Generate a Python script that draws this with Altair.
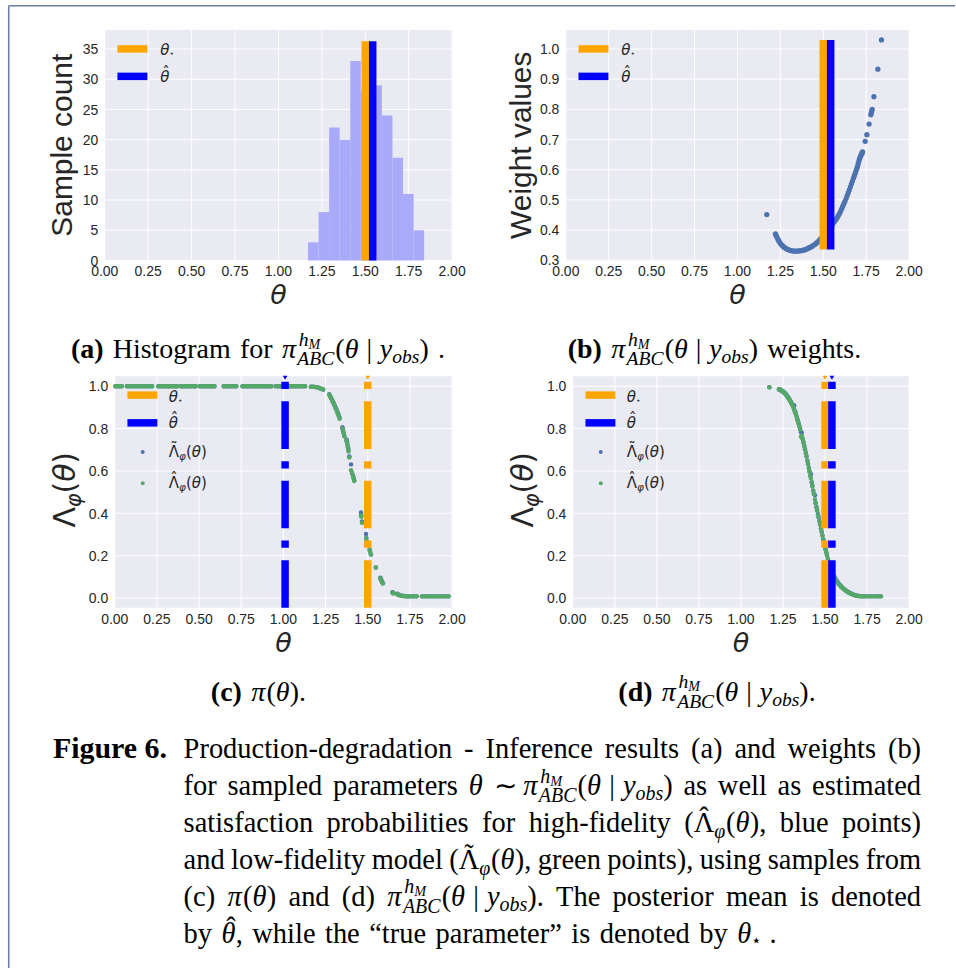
import altair as alt
import pandas as pd

# ------------------------------------------------------------------ values
THETA_STAR = 1.5      # true parameter
THETA_HAT_A = 1.543   # posterior mean, panels (a) and (b)
THETA_HAT_C = 1.01    # mean of the prior samples, panel (c)
THETA_HAT_D = 1.541   # posterior mean, panel (d)

# (a) histogram of posterior samples
hist_edges = [1.1705, 1.2313, 1.2921, 1.3529, 1.4137, 1.4745,
              1.5353, 1.5961, 1.6569, 1.7177, 1.7785, 1.8393]
hist_counts = [3, 8, 22, 20, 33, 28, 29, 24, 17, 11, 5]
hist_line_top = 36.3

# (b) importance weights of the posterior samples
weight_theta = [1.171, 1.221, 1.226, 1.231, 1.237, 1.243, 1.250, 1.257, 1.264, 1.271,
                1.279, 1.287, 1.295, 1.303, 1.311, 1.319, 1.327, 1.335, 1.343, 1.351,
                1.359, 1.367, 1.375, 1.383, 1.391, 1.399, 1.407, 1.414, 1.421, 1.429,
                1.437, 1.445, 1.453, 1.461, 1.469, 1.477, 1.486, 1.495, 1.505, 1.515,
                1.525, 1.535, 1.545, 1.555, 1.564, 1.571, 1.578, 1.585, 1.592, 1.599,
                1.606, 1.613, 1.620, 1.627, 1.634, 1.640, 1.646, 1.652, 1.658, 1.664,
                1.670, 1.676, 1.681, 1.686, 1.691, 1.696, 1.700, 1.704, 1.708, 1.712,
                1.716, 1.720, 1.724, 1.727, 1.729, 1.744, 1.754, 1.767, 1.777, 1.780,
                1.782, 1.785, 1.795, 1.818, 1.839]
weight_value = [0.451, 0.387, 0.381, 0.375, 0.368, 0.362, 0.356, 0.351, 0.347, 0.343,
                0.340, 0.337, 0.335, 0.333, 0.332, 0.331, 0.330, 0.330, 0.330, 0.330,
                0.331, 0.331, 0.332, 0.333, 0.334, 0.336, 0.338, 0.340, 0.342, 0.344,
                0.347, 0.350, 0.353, 0.357, 0.361, 0.366, 0.372, 0.378, 0.385, 0.392,
                0.399, 0.406, 0.413, 0.420, 0.427, 0.432, 0.438, 0.445, 0.452, 0.460,
                0.469, 0.478, 0.487, 0.496, 0.506, 0.515, 0.524, 0.533, 0.543, 0.553,
                0.562, 0.572, 0.580, 0.588, 0.597, 0.605, 0.612, 0.621, 0.630, 0.637,
                0.643, 0.648, 0.653, 0.656, 0.659, 0.694, 0.716, 0.751, 0.782, 0.789,
                0.794, 0.800, 0.842, 0.933, 1.030]
weight_line_span = [0.335, 1.03]

# (c) satisfaction probabilities on prior samples
prior_flat_theta = [0.004, 0.017, 0.029, 0.041, 0.072, 0.085, 0.097, 0.109, 0.121, 0.134,
                    0.146, 0.159, 0.171, 0.183, 0.196, 0.208, 0.221, 0.258, 0.270, 0.283,
                    0.295, 0.307, 0.320, 0.332, 0.345, 0.357, 0.369, 0.392, 0.404, 0.417,
                    0.429, 0.442, 0.454, 0.467, 0.479, 0.505, 0.517, 0.530, 0.542, 0.554,
                    0.567, 0.579, 0.591, 0.646, 0.658, 0.671, 0.683, 0.695, 0.708, 0.720,
                    0.758, 0.770, 0.783, 0.795, 0.807, 0.820, 0.832, 0.845, 0.857, 0.869,
                    0.882, 0.894, 0.907, 0.919, 0.929, 0.955, 0.967, 0.980, 0.992, 1.004,
                    1.017, 1.029, 1.042, 1.054, 1.066, 1.079, 1.091, 1.104, 1.116, 1.128]
prior_flat_value = 1.0
prior_drop_theta = [1.163, 1.175, 1.188, 1.200, 1.212, 1.224, 1.236, 1.272, 1.277, 1.282,
                    1.288, 1.293, 1.298, 1.304, 1.310, 1.316, 1.322, 1.327, 1.333, 1.350,
                    1.353, 1.357, 1.361, 1.374, 1.377, 1.380, 1.383, 1.386, 1.391, 1.401,
                    1.407, 1.413, 1.417, 1.420, 1.460, 1.462, 1.466, 1.490, 1.492, 1.511,
                    1.514, 1.519, 1.548, 1.575, 1.578, 1.582, 1.586, 1.590, 1.647, 1.652,
                    1.675, 1.680, 1.692, 1.705, 1.717, 1.730, 1.741]
prior_drop_tilde = [0.998, 0.997, 0.996, 0.995, 0.992, 0.988, 0.984, 0.962, 0.954, 0.946,
                    0.937, 0.928, 0.921, 0.910, 0.898, 0.888, 0.876, 0.866, 0.852, 0.806,
                    0.796, 0.782, 0.766, 0.748, 0.740, 0.725, 0.712, 0.700, 0.668, 0.631,
                    0.590, 0.578, 0.566, 0.556, 0.404, 0.392, 0.362, 0.302, 0.284, 0.229,
                    0.220, 0.207, 0.144, 0.096, 0.090, 0.082, 0.075, 0.070, 0.027, 0.024,
                    0.021, 0.018, 0.013, 0.011, 0.010, 0.009, 0.008]
prior_drop_hat = [0.998, 0.997, 0.996, 0.995, 0.992, 0.988, 0.984, 0.960, 0.952, 0.944,
                  0.935, 0.926, 0.918, 0.907, 0.896, 0.884, 0.870, 0.860, 0.846, 0.800,
                  0.790, 0.778, 0.764, 0.744, 0.736, 0.720, 0.708, 0.692, 0.664, 0.603,
                  0.588, 0.574, 0.562, 0.552, 0.390, 0.384, 0.356, 0.283, 0.272, 0.227,
                  0.218, 0.205, 0.144, 0.094, 0.088, 0.080, 0.074, 0.069, 0.026, 0.022,
                  0.019, 0.015, 0.012, 0.010, 0.009, 0.009, 0.008]
prior_tail_theta = [1.752, 1.765, 1.778, 1.790, 1.822, 1.835, 1.848, 1.861, 1.874, 1.887,
                    1.900, 1.913, 1.926, 1.940, 1.953, 1.966, 1.979]
prior_tail_value = 0.008

# (d) satisfaction probabilities on posterior samples
post_theta = [1.169, 1.226, 1.229, 1.233, 1.237, 1.241, 1.246, 1.250, 1.255, 1.259,
              1.264, 1.268, 1.273, 1.277, 1.282, 1.287, 1.292, 1.297, 1.302, 1.307,
              1.312, 1.317, 1.322, 1.327, 1.332, 1.337, 1.342, 1.347, 1.352, 1.357,
              1.362, 1.367, 1.372, 1.377, 1.381, 1.386, 1.390, 1.395, 1.399, 1.404,
              1.408, 1.413, 1.416, 1.421, 1.425, 1.430, 1.434, 1.440, 1.444, 1.449,
              1.453, 1.458, 1.462, 1.467, 1.471, 1.476, 1.480, 1.485, 1.490, 1.494,
              1.499, 1.503, 1.508, 1.512, 1.517, 1.521, 1.526, 1.531, 1.536, 1.541,
              1.546, 1.551, 1.556, 1.561, 1.566, 1.571, 1.577, 1.582, 1.588, 1.594,
              1.600, 1.606, 1.612, 1.618, 1.624, 1.630, 1.637, 1.644, 1.651, 1.659,
              1.667, 1.675, 1.684, 1.694, 1.705, 1.717, 1.729, 1.742, 1.756, 1.771,
              1.787, 1.804, 1.819, 1.832]
post_hat = [0.995, 0.986, 0.985, 0.983, 0.982, 0.979, 0.976, 0.974, 0.971, 0.968,
            0.964, 0.960, 0.955, 0.950, 0.944, 0.938, 0.931, 0.924, 0.916, 0.908,
            0.898, 0.888, 0.877, 0.865, 0.852, 0.839, 0.825, 0.811, 0.796, 0.761,
            0.767, 0.750, 0.733, 0.716, 0.701, 0.684, 0.668, 0.648, 0.632, 0.612,
            0.596, 0.576, 0.566, 0.545, 0.527, 0.506, 0.490, 0.465, 0.447, 0.428,
            0.413, 0.395, 0.380, 0.362, 0.346, 0.327, 0.312, 0.294, 0.276, 0.262,
            0.244, 0.230, 0.213, 0.199, 0.183, 0.170, 0.156, 0.143, 0.132, 0.122,
            0.113, 0.104, 0.097, 0.090, 0.084, 0.078, 0.071, 0.066, 0.060, 0.055,
            0.050, 0.046, 0.042, 0.038, 0.034, 0.031, 0.027, 0.024, 0.021, 0.019,
            0.016, 0.013, 0.011, 0.010, 0.009, 0.009, 0.008, 0.008, 0.008, 0.008,
            0.008, 0.008, 0.008, 0.008]
post_tilde = [0.995, 0.985, 0.984, 0.983, 0.981, 0.979, 0.977, 0.975, 0.972, 0.969,
              0.965, 0.961, 0.957, 0.952, 0.946, 0.941, 0.934, 0.926, 0.919, 0.912,
              0.905, 0.909, 0.882, 0.869, 0.856, 0.842, 0.828, 0.813, 0.798, 0.783,
              0.780, 0.752, 0.735, 0.718, 0.703, 0.686, 0.670, 0.650, 0.634, 0.614,
              0.598, 0.578, 0.584, 0.547, 0.530, 0.508, 0.492, 0.485, 0.449, 0.430,
              0.415, 0.397, 0.382, 0.364, 0.348, 0.329, 0.314, 0.296, 0.278, 0.264,
              0.246, 0.231, 0.215, 0.201, 0.185, 0.172, 0.158, 0.145, 0.134, 0.124,
              0.115, 0.106, 0.099, 0.092, 0.086, 0.080, 0.073, 0.068, 0.062, 0.057,
              0.052, 0.047, 0.043, 0.039, 0.036, 0.032, 0.029, 0.026, 0.023, 0.020,
              0.017, 0.015, 0.012, 0.011, 0.010, 0.009, 0.008, 0.008, 0.008, 0.008,
              0.008, 0.008, 0.008, 0.008]

# tick values and their labels
X_TICKS = [0, 0.25, 0.5, 0.75, 1.0, 1.25, 1.5, 1.75, 2.0]
X_LABELS = ["0.00", "0.25", "0.50", "0.75", "1.00", "1.25", "1.50", "1.75", "2.00"]
Y_TICKS_A = [0, 5, 10, 15, 20, 25, 30, 35]
Y_LABELS_A = ["0", "5", "10", "15", "20", "25", "30", "35"]
Y_TICKS_B = [0.3, 0.4, 0.5, 0.6, 0.7, 0.8, 0.9, 1.0]
Y_LABELS_B = ["0.3", "0.4", "0.5", "0.6", "0.7", "0.8", "0.9", "1.0"]
Y_TICKS_CD = [0.0, 0.2, 0.4, 0.6, 0.8, 1.0]
Y_LABELS_CD = ["0.0", "0.2", "0.4", "0.6", "0.8", "1.0"]

# ------------------------------------------------------------------ styles
BG = "#EAEAF2"
DARK = "#262626"
ORANGE = "#FFA500"
BLUE = "#0000FF"
PT_BLUE = "#4C72B0"
PT_GREEN = "#55A868"
HIST = "#AAAAFB"
FRAME = "#6B7FA3"
DASHDOT = [47.7, 12.3, 7.3, 12.3]
LINE_W = 7.5
TICK_FONT = "Liberation Sans"
ONE = pd.DataFrame({"k": [0]})

# origin of panel (a)'s plot area on the page; captions are placed from it
OX, OY = 104.0, 28.0


def vtext(text, x, y, size, font="DejaVu Sans", style="normal", angle=0,
          color=DARK, weight="normal", align="left"):
    return alt.Chart(ONE).mark_text(
        text=text, font=font, fontSize=size, fontStyle=style, fontWeight=weight,
        color=color, align=align, baseline="alphabetic", angle=angle
    ).encode(x=alt.value(x), y=alt.value(y))


def hbar(color, x0, x1, y):
    return alt.Chart(ONE).mark_rule(color=color, strokeWidth=LINE_W).encode(
        x=alt.value(x0), x2=alt.value(x1), y=alt.value(y))


def dot(color, x, y):
    return alt.Chart(ONE).mark_point(filled=True, size=16, opacity=1, color=color).encode(
        x=alt.value(x), y=alt.value(y))


def theta_star_label(x, b):
    return [vtext("θ", x, b, 15, style="italic"), vtext("⋆", x + 9.0, b + 1.5, 8)]


def theta_hat_label(x, b):
    return [vtext("θ", x, b, 15, style="italic"), vtext("ˆ", x + 2.2, b - 4.5, 15)]


def lam_label(x, b, accent):
    return [vtext("Λ", x, b, 15), vtext(accent, x + 1.5, b - 4.0, 15),
            vtext("φ", x + 10.3, b + 3.0, 10.5, style="italic"),
            vtext("(", x + 17.4, b, 15), vtext("θ", x + 23.2, b, 15, style="italic"),
            vtext(")", x + 32.3, b, 15)]


def line_legend(x0):
    return ([hbar(ORANGE, x0 + 12.7, x0 + 42.7, 19.0), hbar(BLUE, x0 + 12.7, x0 + 42.7, 46.5)]
            + theta_star_label(x0 + 55.5, 25.0) + theta_hat_label(x0 + 55.5, 52.3))


def full_legend(x0):
    return ([hbar(ORANGE, x0 + 12.7, x0 + 42.7, 18.9), hbar(BLUE, x0 + 12.7, x0 + 42.7, 46.7),
             dot(PT_BLUE, x0 + 28, 76), dot(PT_GREEN, x0 + 28, 107.3)]
            + theta_star_label(x0 + 54, 25.5) + theta_hat_label(x0 + 54, 52.0)
            + lam_label(x0 + 54, 81.0, "˜") + lam_label(x0 + 54, 112.0, "ˆ"))


def lam_title(bx, by):
    # rotated axis title Λφ(θ), written upward from (bx, by)
    pieces = [("Λ", "normal", 30, 0, 20.5), ("φ", "italic", 21, 6, 13.7),
              ("(", "normal", 30, 0, 11.7), ("θ", "italic", 30, 0, 18.1),
              (")", "normal", 30, 0, 11.7)]
    out, y = [], by
    for text, style, size, shift, adv in pieces:
        out.append(vtext(text, bx + shift, y, size, style=style, angle=270))
        y -= adv
    return out


def frame_axes(xs, ys, y_ticks, y_labels, x0, x1, h):
    """White grid, tick labels and the θ title of one panel."""
    vgrid = alt.Chart(pd.DataFrame({"v": X_TICKS})).mark_rule(
        color="white", strokeWidth=1).encode(
        x=alt.X("v:Q", scale=xs, axis=None), y=alt.value(0), y2=alt.value(h))
    hgrid = alt.Chart(pd.DataFrame({"v": y_ticks})).mark_rule(
        color="white", strokeWidth=1).encode(
        y=alt.Y("v:Q", scale=ys, axis=None), x=alt.value(x0), x2=alt.value(x1))
    xlab = alt.Chart(pd.DataFrame({"v": X_TICKS, "s": X_LABELS})).mark_text(
        font=TICK_FONT, fontSize=14, color=DARK, align="center", baseline="alphabetic").encode(
        x=alt.X("v:Q", scale=xs, axis=None), y=alt.value(h + 16), text="s:N")
    ylab = alt.Chart(pd.DataFrame({"v": y_ticks, "s": y_labels})).mark_text(
        font=TICK_FONT, fontSize=14, color=DARK, align="right", baseline="alphabetic", dy=5.2).encode(
        y=alt.Y("v:Q", scale=ys, axis=None), x=alt.value(x0 - 6.5), text="s:N")
    xtitle = vtext("θ", (x0 + x1) / 2, h + 44, 27, style="italic", align="center")
    return [vgrid, hgrid], [xlab, ylab, xtitle]


# ------------------------------------------------------------------ caption typesetting
ROMAN = {" ": .25, "(": .333, ")": .333, ",": .25, ".": .25, "-": .333, "|": .2,
         "“": .444, "”": .444, "∼": .541, "6": .5,
         "a": .444, "b": .5, "c": .444, "d": .5, "e": .444, "f": .333, "g": .5, "h": .5,
         "i": .278, "j": .278, "k": .5, "l": .278, "m": .778, "n": .5, "o": .5, "p": .5,
         "q": .5, "r": .333, "s": .389, "t": .278, "u": .5, "v": .5, "w": .722, "x": .5,
         "y": .5, "z": .444, "F": .556, "H": .722, "I": .333, "P": .556, "T": .611,
         "Λ": .72, "ˆ": .333, "˜": .333, "⋆": .5}
ITAL = {"(": .333, ")": .333, "a": .5, "b": .5, "c": .444, "h": .5, "o": .5, "s": .389,
        "y": .444, "A": .611, "B": .611, "C": .667, "M": .833, "θ": .5, "π": .55, "φ": .6}
BOLD = {" ": .25, "(": .333, ")": .333, ".": .25, "6": .5, "F": .611, "i": .278, "g": .5,
        "u": .556, "r": .444, "e": .444, "a": .5, "b": .556, "c": .444, "d": .556}
TABLES = {"r": ROMAN, "i": ITAL, "b": BOLD}
CAP_FONT = "Liberation Serif"
CAP = 28.5
SUB = 28.0


def em_width(s, style):
    t = TABLES[style]
    return sum(t.get(c, 0.5) for c in s)


class Word:
    def __init__(self):
        self.parts = []
        self.w = 0.0

    def add(self, text, style="r", scale=1.0, dy=0.0):
        self.parts.append((text, style, scale, self.w, dy))
        self.w += em_width(text, style) * scale
        return self

    def put(self, text, x, style="r", scale=1.0, dy=0.0):
        self.parts.append((text, style, scale, x, dy))
        return self

    def skip(self, em):
        self.w += em
        return self


def W(text, style="r"):
    return Word().add(text, style)


def pi_post(word):
    word.add("π", "i")
    x0 = word.w
    word.put("h", x0 + 0.05, "i", 0.7, -0.45)
    word.put("M", x0 + 0.05 + 0.7 * em_width("h", "i"), "i", 0.5, -0.33)
    word.put("ABC", x0, "i", 0.7, 0.25)
    word.w = x0 + 0.7 * em_width("ABC", "i") + 0.04
    word.add("(").add("θ", "i").skip(0.28).add("|").skip(0.28)
    word.add("y", "i").add("obs", "i", 0.7, 0.18).add(")")
    return word


def accented(word, base, style, accent, lift):
    x0 = word.w
    word.add(base, style)
    shift = (em_width(base, style) - em_width(accent, "r")) / 2 + (0.08 if style == "i" else 0)
    word.put(accent, x0 + shift, "r", 1.0, -lift)
    return word


def lam_word(accent):
    w = Word().add("(")
    accented(w, "Λ", "r", accent, 0.2)
    w.add("φ", "i", 0.7, 0.2).add("(").add("θ", "i").add(")").add(",")
    return w


caption_rows = []


def emit(words, xs, baseline, size):
    for word, x in zip(words, xs):
        for text, style, scale, xe, dy in word.parts:
            caption_rows.append(dict(t=text, st=style, x=x + xe * size - OX,
                                     y=baseline + dy * size - OY, fs=size * scale))


def justified(words, x0, x1, baseline, size=CAP):
    total = sum(w.w for w in words) * size
    gap = (x1 - x0 - total) / (len(words) - 1)
    xs, x = [], x0
    for w in words:
        xs.append(x)
        x += w.w * size + gap
    emit(words, xs, baseline, size)


def natural(words, x0, baseline, size=CAP, center=False):
    gap = 0.333 * size
    total = sum(w.w for w in words) * size + gap * (len(words) - 1)
    x = x0 - total / 2 if center else x0
    xs = []
    for w in words:
        xs.append(x)
        x += w.w * size + gap
    emit(words, xs, baseline, size)


# sub-captions
natural([W("(a)", "b"), W("Histogram"), W("for"), pi_post(Word()), W(".")], 257.5, 357, SUB, True)
natural([W("(b)", "b"), pi_post(Word()), W("weights.")], 715, 357, SUB, True)
natural([W("(c)", "b"), Word().add("π", "i").add("(").add("θ", "i").add(").")], 258, 700, SUB, True)
natural([W("(d)", "b"), pi_post(Word()).add(".")], 717.5, 700, SUB, True)

# figure caption
L0, L1 = 183.0, 922.0
emit([W("Figure 6.", "b")], [52.0], 758, 30.0)
justified([W("Production-degradation"), W("-"), W("Inference"), W("results"), W("(a)"),
           W("and"), W("weights"), W("(b)")], L0, L1, 758)
justified([W("for"), W("sampled"), W("parameters"), W("θ", "i"), W("∼").skip(0.12), pi_post(Word()),
           W("as"), W("well"), W("as"), W("estimated")], L0, L1, 795)
justified([W("satisfaction"), W("probabilities"), W("for"), W("high-fidelity"),
           lam_word("ˆ"), W("blue"), W("points)")], L0, L1, 832)
justified([W("and"), W("low-fidelity"), W("model"), lam_word("˜"), W("green"),
           W("points),"), W("using"), W("samples"), W("from")], L0, L1, 869)
justified([W("(c)"), Word().add("π", "i").add("(").add("θ", "i").add(")"), W("and"), W("(d)"),
           pi_post(Word()).add("."), W("The"), W("posterior"), W("mean"), W("is"),
           W("denoted")], L0, L1, 905.5)
natural([W("by"), accented(Word(), "θ", "i", "ˆ", 0.2).add(","), W("while"), W("the"),
         W("“true"), W("parameter”"), W("is"), W("denoted"), W("by"),
         Word().add("θ", "i").add("⋆", "r", 0.6, 0.12), W(".")], L0, 942.5)

caption_df = pd.DataFrame(caption_rows)


def caption_layer(style):
    sub = caption_df[caption_df["st"] == style]
    return alt.Chart(sub).mark_text(
        font=CAP_FONT, align="left", baseline="alphabetic", color="black",
        fontStyle="italic" if style == "i" else "normal",
        fontWeight="bold" if style == "b" else "normal"
    ).encode(x=alt.X("x:Q", scale=None), y=alt.Y("y:Q", scale=None),
             size=alt.Size("fs:Q", scale=None), text="t:N")


frame = [
    alt.Chart(ONE).mark_rule(color=FRAME, strokeWidth=1.6).encode(
        x=alt.value(-96.25), y=alt.value(-24.25), y2=alt.value(945)),
    alt.Chart(ONE).mark_rule(color=FRAME, strokeWidth=1.6).encode(
        x=alt.value(-96.25), x2=alt.value(852), y=alt.value(-24.25)),
]


def vlines(pos, lo, hi, color, xs, ys):
    df = pd.DataFrame({"pos": [pos], "lo": [lo], "hi": [hi]})
    return alt.Chart(df).mark_rule(color=color, strokeWidth=LINE_W).encode(
        x=alt.X("pos:Q", scale=xs, axis=None),
        y=alt.Y("lo:Q", scale=ys, axis=None), y2="hi:Q")


# ------------------------------------------------------------------ panel (a)
WA, HA = 348, 231
xs_a = alt.Scale(domain=[0, 2], nice=False, zero=False)
ys_a = alt.Scale(domain=[0, 38.15], nice=False, zero=False)
hist_df = pd.DataFrame({"lo": hist_edges[:-1], "hi": hist_edges[1:],
                        "base": [0] * len(hist_counts), "count": hist_counts})
bars = alt.Chart(hist_df).mark_rect(color=HIST).encode(
    x=alt.X("lo:Q", scale=xs_a, axis=None), x2="hi:Q",
    y=alt.Y("count:Q", scale=ys_a, axis=None), y2="base:Q")
grid_a, labels_a = frame_axes(xs_a, ys_a, Y_TICKS_A, Y_LABELS_A, 0, WA, HA)

panel_a = alt.layer(
    *grid_a, bars,
    vlines(THETA_STAR, 0, hist_line_top, ORANGE, xs_a, ys_a),
    vlines(THETA_HAT_A, 0, hist_line_top, BLUE, xs_a, ys_a),
    *labels_a,
    vtext("Sample count", -32.5, HA / 2, 30, font=TICK_FONT, angle=270, align="center"),
    *line_legend(0),
    caption_layer("r"), caption_layer("i"), caption_layer("b"),
    *frame,
).properties(width=WA, height=HA, view=alt.ViewBackground(fill=BG, strokeWidth=0))

# ------------------------------------------------------------------ panel (b)
WB, HB = 344, 231
xs_b = alt.Scale(domain=[0, 2], nice=False, zero=False)
ys_b = alt.Scale(domain=[0.299, 1.063], nice=False, zero=False)
weights_df = pd.DataFrame({"theta": weight_theta, "w": weight_value})
pts_b = alt.Chart(weights_df).mark_circle(size=28, opacity=1, color=PT_BLUE).encode(
    x=alt.X("theta:Q", scale=xs_b, axis=None),
    y=alt.Y("w:Q", scale=ys_b, axis=None))
grid_b, labels_b = frame_axes(xs_b, ys_b, Y_TICKS_B, Y_LABELS_B, 0, WB, HB)
panel_b = alt.layer(
    *grid_b, pts_b,
    vlines(THETA_STAR, weight_line_span[0], weight_line_span[1], ORANGE, xs_b, ys_b),
    vlines(THETA_HAT_A, weight_line_span[0], weight_line_span[1], BLUE, xs_b, ys_b),
    *labels_b,
    vtext("Weight values", -35, HB / 2, 30, font=TICK_FONT, angle=270, align="center"),
    *line_legend(0),
).properties(width=WB, height=HB, view=alt.ViewBackground(fill=BG, strokeWidth=0))

# ------------------------------------------------------------------ panels (c) and (d)
YS_CD = [-0.0457, 1.0471]
H_CD = 232


def dashed(pos, color, xs):
    df = pd.DataFrame({"pos": [pos]})
    line = alt.Chart(df).mark_rule(color=color, strokeWidth=LINE_W, strokeDash=DASHDOT,
                                   strokeCap="butt").encode(
        x=alt.X("pos:Q", scale=xs, axis=None), y=alt.value(H_CD), y2=alt.value(0))
    cap = alt.Chart(df).mark_point(shape="triangle-down", filled=True, size=22, opacity=1,
                                   color=color).encode(
        x=alt.X("pos:Q", scale=xs, axis=None), y=alt.value(1.5))
    return [line, cap]


def lam_panel(theta, tilde, hat, theta_hat, width, inset, title_x):
    # the plot area runs from `inset` to `width` inside the cell
    xs = alt.Scale(domain=[0, 2], nice=False, zero=False, range=[inset, width])
    ys = alt.Scale(domain=YS_CD, nice=False, zero=False)
    background = alt.Chart(ONE).mark_rect(color=BG).encode(
        x=alt.value(inset), x2=alt.value(width), y=alt.value(0), y2=alt.value(H_CD))
    grid, labels = frame_axes(xs, ys, Y_TICKS_CD, Y_LABELS_CD, inset, width, H_CD)
    df = pd.DataFrame({"theta": theta, "tilde": tilde, "hat": hat})
    blue_pts = alt.Chart(df).mark_circle(size=20, opacity=1, color=PT_BLUE).encode(
        x=alt.X("theta:Q", scale=xs, axis=None),
        y=alt.Y("tilde:Q", scale=ys, axis=None))
    green_pts = alt.Chart(df).mark_circle(size=20, opacity=1, color=PT_GREEN).encode(
        x=alt.X("theta:Q", scale=xs, axis=None),
        y=alt.Y("hat:Q", scale=ys, axis=None))
    return alt.layer(
        background, *grid, blue_pts, green_pts,
        *dashed(THETA_STAR, ORANGE, xs),
        *dashed(theta_hat, BLUE, xs),
        *labels,
        *full_legend(inset),
        *lam_title(inset + title_x, 151.7),
    ).properties(width=width, height=H_CD)


prior_theta = prior_flat_theta + prior_drop_theta + prior_tail_theta
prior_tilde = ([prior_flat_value] * len(prior_flat_theta) + prior_drop_tilde
               + [prior_tail_value] * len(prior_tail_theta))
prior_hat = ([prior_flat_value] * len(prior_flat_theta) + prior_drop_hat
             + [prior_tail_value] * len(prior_tail_theta))

panel_c = lam_panel(prior_theta, prior_tilde, prior_hat, THETA_HAT_C, 348, 10, -39.5)
panel_d = lam_panel(post_theta, post_tilde, post_hat, THETA_HAT_D, 344, 7, -40.0)

chart = alt.concat(
    panel_a, panel_b, panel_c, panel_d, columns=2,
    spacing={"row": 116, "column": 114}, bounds="flush"
).properties(
    padding={"left": 7, "top": 3, "right": 0, "bottom": 0}
).configure_view(strokeWidth=0)

chart.save("out.html", embed_options={"renderer": "svg", "actions": False})
